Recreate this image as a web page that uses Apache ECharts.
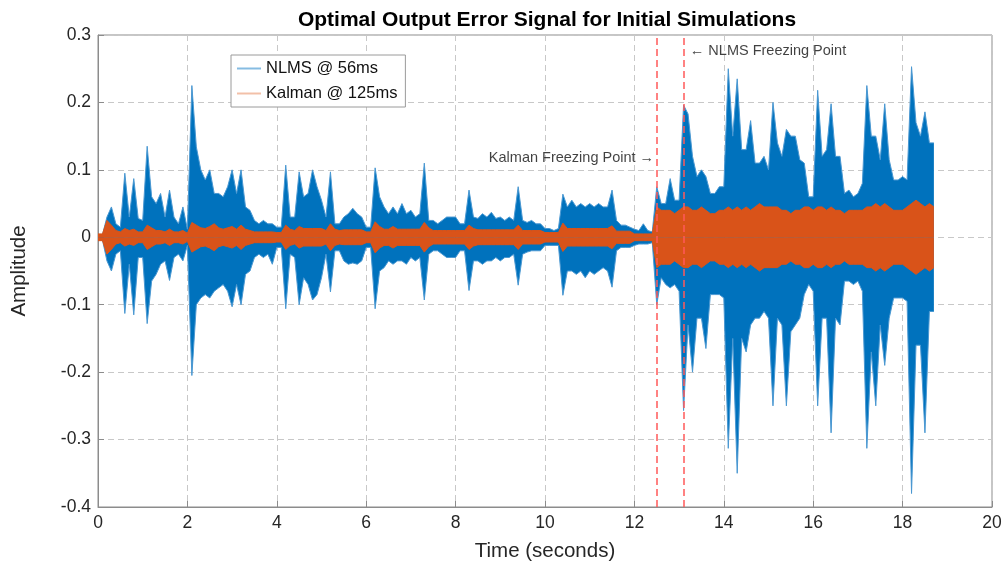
<!DOCTYPE html>
<html>
<head>
<meta charset="utf-8">
<script src="https://cdn.jsdelivr.net/npm/echarts@6/dist/echarts.min.js"></script>
<style>
html,body{margin:0;padding:0;background:#fff;}
#chart{width:1005px;height:563px;}
</style>
</head>
<body>
<div id="chart"></div>
<script>
// Envelope samples, one pair (peak high / peak low) every 0.1 s starting at t = 0
var sampleStart = 0.0;
var sampleStep = 0.1;
var nlmsHi = [
0.004,0.004,0.03,0.045,0.02,0.015,0.095,0.03,0.087,0.028,
0.025,0.135,0.06,0.05,0.065,0.03,0.07,0.03,0.02,0.045,
0.012,0.225,0.134,0.1,0.085,0.1,0.065,0.065,0.06,0.075,
0.1,0.065,0.1,0.045,0.04,0.025,0.02,0.025,0.02,0.02,
0.015,0.015,0.107,0.03,0.03,0.097,0.06,0.065,0.1,0.075,
0.055,0.03,0.097,0.02,0.02,0.03,0.035,0.043,0.035,0.03,
0.015,0.015,0.103,0.06,0.045,0.035,0.045,0.035,0.05,0.035,
0.04,0.03,0.035,0.11,0.025,0.025,0.02,0.025,0.03,0.03,
0.03,0.02,0.02,0.07,0.03,0.028,0.035,0.03,0.037,0.028,
0.03,0.025,0.03,0.025,0.075,0.025,0.022,0.025,0.02,0.02,
0.013,0.013,0.01,0.013,0.064,0.045,0.055,0.045,0.05,0.045,
0.05,0.045,0.05,0.045,0.045,0.07,0.025,0.018,0.018,0.015,
0.012,0.01,0.02,0.01,0.008,0.075,0.05,0.05,0.087,0.055,
0.055,0.196,0.183,0.12,0.09,0.1,0.09,0.065,0.065,0.075,
0.075,0.25,0.15,0.235,0.13,0.13,0.173,0.11,0.11,0.12,
0.1,0.2,0.14,0.12,0.16,0.15,0.15,0.115,0.11,0.06,
0.06,0.218,0.12,0.13,0.198,0.12,0.12,0.065,0.07,0.06,
0.065,0.08,0.225,0.15,0.15,0.115,0.198,0.115,0.085,0.085,
0.09,0.085,0.253,0.17,0.15,0.186,0.14,0.14
];
var nlmsLo = [
-0.004,-0.004,-0.035,-0.05,-0.025,-0.02,-0.113,-0.04,-0.115,-0.03,
-0.03,-0.128,-0.065,-0.055,-0.04,-0.035,-0.064,-0.03,-0.025,-0.035,
-0.012,-0.205,-0.1,-0.09,-0.085,-0.09,-0.08,-0.075,-0.07,-0.08,
-0.103,-0.07,-0.1,-0.055,-0.05,-0.03,-0.025,-0.03,-0.025,-0.04,
-0.015,-0.015,-0.106,-0.025,-0.03,-0.1,-0.06,-0.07,-0.093,-0.085,
-0.06,-0.025,-0.081,-0.02,-0.02,-0.035,-0.04,-0.038,-0.04,-0.035,
-0.015,-0.015,-0.106,-0.05,-0.045,-0.035,-0.04,-0.035,-0.035,-0.04,
-0.03,-0.035,-0.03,-0.093,-0.025,-0.02,-0.02,-0.025,-0.03,-0.03,
-0.03,-0.02,-0.02,-0.079,-0.035,-0.035,-0.04,-0.035,-0.035,-0.03,
-0.035,-0.03,-0.03,-0.025,-0.071,-0.025,-0.022,-0.02,-0.02,-0.02,
-0.012,-0.012,-0.012,-0.012,-0.086,-0.05,-0.05,-0.055,-0.05,-0.06,
-0.05,-0.055,-0.05,-0.045,-0.05,-0.074,-0.02,-0.015,-0.015,-0.015,
-0.012,-0.01,-0.01,-0.01,-0.008,-0.1,-0.06,-0.07,-0.075,-0.07,
-0.08,-0.257,-0.13,-0.2,-0.12,-0.12,-0.165,-0.085,-0.085,-0.085,
-0.09,-0.313,-0.15,-0.35,-0.15,-0.17,-0.13,-0.12,-0.12,-0.11,
-0.12,-0.25,-0.12,-0.13,-0.25,-0.14,-0.13,-0.12,-0.085,-0.07,
-0.08,-0.25,-0.12,-0.12,-0.29,-0.12,-0.13,-0.065,-0.065,-0.07,
-0.065,-0.08,-0.313,-0.17,-0.25,-0.13,-0.19,-0.12,-0.09,-0.09,
-0.09,-0.095,-0.38,-0.16,-0.16,-0.29,-0.11,-0.11
];
var kalmanAmp = [
0.005,0.005,0.025,0.018,0.01,0.008,0.013,0.01,0.012,0.008,
0.008,0.018,0.014,0.01,0.01,0.008,0.012,0.008,0.008,0.01,
0.006,0.022,0.018,0.014,0.013,0.016,0.02,0.014,0.012,0.014,
0.016,0.012,0.018,0.012,0.01,0.008,0.008,0.008,0.008,0.008,
0.007,0.007,0.018,0.012,0.01,0.016,0.013,0.013,0.013,0.013,
0.013,0.01,0.02,0.012,0.01,0.011,0.011,0.011,0.011,0.011,
0.008,0.008,0.023,0.016,0.012,0.012,0.016,0.012,0.012,0.012,
0.012,0.012,0.012,0.022,0.014,0.01,0.01,0.01,0.01,0.01,
0.01,0.01,0.01,0.018,0.013,0.011,0.011,0.011,0.011,0.011,
0.011,0.011,0.011,0.011,0.018,0.01,0.01,0.01,0.01,0.01,
0.007,0.007,0.007,0.007,0.021,0.013,0.013,0.013,0.013,0.013,
0.013,0.013,0.013,0.013,0.013,0.017,0.009,0.009,0.009,0.009,
0.005,0.005,0.005,0.005,0.005,0.045,0.04,0.04,0.04,0.035,
0.04,0.045,0.045,0.04,0.04,0.045,0.04,0.035,0.035,0.04,
0.04,0.045,0.04,0.045,0.04,0.045,0.04,0.045,0.05,0.045,
0.045,0.045,0.045,0.04,0.04,0.035,0.04,0.04,0.045,0.045,
0.04,0.045,0.045,0.04,0.045,0.04,0.04,0.035,0.04,0.04,
0.04,0.04,0.045,0.045,0.05,0.045,0.05,0.045,0.04,0.04,
0.04,0.045,0.05,0.055,0.05,0.045,0.05,0.045
];
var freezeTimes = [12.5, 13.1];
var notes = [
  [12.44, 0.117, 'Kalman Freezing Point \u2192', 'left'],
  [13.24, 0.277, '\u2190 NLMS Freezing Point', 'right']
];
var xTicks = {min: 0, max: 20, interval: 2};
var yTicks = {min: -0.4, max: 0.3, interval: 0.1};
var seriesNames = ['NLMS @ 56ms', 'Kalman @ 125ms'];

function toPoints(vals) {
  return vals.map(function (v, i) { return [+(sampleStart + i * sampleStep).toFixed(3), v]; });
}
var kalLo = kalmanAmp.map(function (v) { return -v; });

var FONT = '"Liberation Sans", Arial, Helvetica, sans-serif';
var BLUE = '#0072BD', BLUE_EDGE = '#4a98d2', ORANGE = '#D95319';

function band(name, vals, fill, edge, z) {
  return {
    name: name, type: 'line', showSymbol: false, symbol: 'none', silent: true,
    data: toPoints(vals), z: z,
    lineStyle: {color: edge, width: 1},
    itemStyle: {color: fill},
    areaStyle: {color: fill, opacity: 1, origin: 0}
  };
}

var chart = echarts.init(document.getElementById('chart'), null, {renderer: 'canvas'});
var kalUpper = band(seriesNames[1], kalmanAmp, ORANGE, ORANGE, 4);
kalUpper.markLine = {
  silent: true, symbol: 'none',
  lineStyle: {color: '#ff5a5a', type: [7, 4], width: 1.5},
  label: {show: false},
  data: freezeTimes.map(function (t) { return {xAxis: t}; })
};
chart.setOption({
  animation: false,
  backgroundColor: '#ffffff',
  textStyle: {fontFamily: FONT},
  title: {
    text: 'Optimal Output Error Signal for Initial Simulations',
    left: 542, top: 5, textAlign: 'center',
    textStyle: {fontFamily: FONT, fontWeight: 'bold', fontSize: 21, color: '#000'}
  },
  grid: {left: 98, right: 13, top: 35, bottom: 56, show: true, borderColor: '#8c8c8c', borderWidth: 1,
    backgroundColor: '#fff', containLabel: false, outerBoundsMode: 'none'},
  legend: {
    left: 231, top: 55, orient: 'vertical',
    backgroundColor: '#fff', borderColor: '#9a9a9a', borderWidth: 1,
    padding: [5, 8, 5, 6], itemGap: 8,
    itemWidth: 24, itemHeight: 2,
    textStyle: {fontFamily: FONT, fontSize: 16.5, color: '#111'},
    data: [
      {name: seriesNames[0], icon: 'rect', itemStyle: {color: '#86bce2'}},
      {name: seriesNames[1], icon: 'rect', itemStyle: {color: '#f2c0a8'}}
    ]
  },
  xAxis: {
    type: 'value', min: xTicks.min, max: xTicks.max, interval: xTicks.interval,
    name: 'Time (seconds)', nameLocation: 'middle', nameGap: 34,
    nameTextStyle: {fontFamily: FONT, fontSize: 20.5, color: '#262626'},
    axisLine: {show: true, onZero: false, lineStyle: {color: '#8c8c8c'}},
    axisTick: {show: true, inside: true, length: 6, lineStyle: {color: '#8c8c8c'}},
    axisLabel: {fontFamily: FONT, fontSize: 17.5, color: '#262626', margin: 7},
    splitLine: {show: true, lineStyle: {color: '#c8c8c8', type: [6, 4], width: 1}}
  },
  yAxis: {
    type: 'value', min: yTicks.min, max: yTicks.max, interval: yTicks.interval,
    name: 'Amplitude', nameLocation: 'middle', nameGap: 68, nameRotate: 90,
    nameTextStyle: {fontFamily: FONT, fontSize: 20.5, color: '#262626'},
    axisLine: {show: true, onZero: false, lineStyle: {color: '#8c8c8c'}},
    axisTick: {show: true, inside: true, length: 6, lineStyle: {color: '#8c8c8c'}},
    axisLabel: {fontFamily: FONT, fontSize: 17.5, color: '#262626', margin: 7,
      formatter: function (v) { var r = Math.round(v * 10) / 10; return r === 0 ? '0' : String(r); }},
    splitLine: {show: true, lineStyle: {color: '#c8c8c8', type: [6, 4], width: 1}}
  },
  series: [
    band(seriesNames[0], nlmsHi, BLUE, BLUE_EDGE, 2),
    band(seriesNames[0], nlmsLo, BLUE, BLUE_EDGE, 2),
    kalUpper,
    band(seriesNames[1], kalLo, ORANGE, ORANGE, 4),
    {
      name: 'notes', type: 'scatter', symbolSize: 0, silent: true, z: 6,
      data: notes.map(function (n) {
        return {value: [n[0], n[1]], label: {show: true, formatter: n[2], position: n[3], distance: 0,
          fontFamily: FONT, fontSize: 14.5, color: '#111'}};
      })
    }
  ]
});
</script>
</body>
</html>
